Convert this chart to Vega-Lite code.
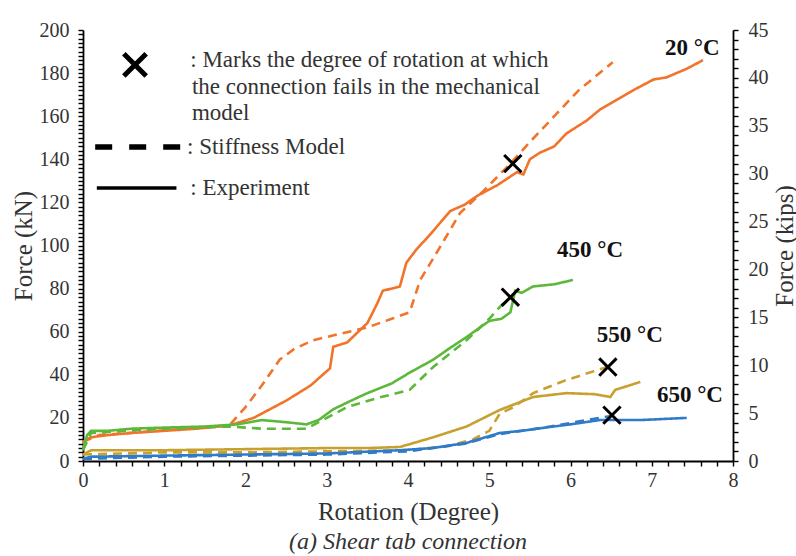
{
  "$schema": "https://vega.github.io/schema/vega-lite/v6.json",
  "width": 650,
  "height": 431,
  "autosize": "none",
  "padding": {"left": 83, "top": 30, "right": 63, "bottom": 95},
  "background": "white",
  "config": {
    "font": "Liberation Serif",
    "view": {"stroke": null},
    "axis": {
      "domainColor": "black", "domainWidth": 1.8, "tickColor": "black", "tickWidth": 1.4, "tickSize": 5,
      "labelFont": "Liberation Serif", "labelFontSize": 20, "labelColor": "#333",
      "titleFont": "Liberation Serif", "titleFontSize": 25, "titleFontWeight": "normal", "titleColor": "#333",
      "grid": false, "labelOverlap": false, "labelFlush": false, "labelBound": false
    }
  },
  "title": {"text": "(a) Shear tab connection", "orient": "bottom", "anchor": "middle", "font": "Liberation Serif", "fontStyle": "italic", "fontWeight": "normal", "fontSize": 24, "color": "#333", "offset": 6},
  "datasets": {
    "curves": [
      {"s": "20", "t": "Experiment", "x": 0, "y": 8}, {"s": "20", "t": "Experiment", "x": 0.05, "y": 10}, {"s": "20", "t": "Experiment", "x": 0.1, "y": 11}, {"s": "20", "t": "Experiment", "x": 0.3, "y": 12}, {"s": "20", "t": "Experiment", "x": 0.6, "y": 13}, {"s": "20", "t": "Experiment", "x": 1.0, "y": 14}, {"s": "20", "t": "Experiment", "x": 1.4, "y": 15}, {"s": "20", "t": "Experiment", "x": 1.8, "y": 16.5}, {"s": "20", "t": "Experiment", "x": 2.1, "y": 20}, {"s": "20", "t": "Experiment", "x": 2.5, "y": 28}, {"s": "20", "t": "Experiment", "x": 2.8, "y": 35}, {"s": "20", "t": "Experiment", "x": 3.04, "y": 43}, {"s": "20", "t": "Experiment", "x": 3.08, "y": 53}, {"s": "20", "t": "Experiment", "x": 3.25, "y": 55}, {"s": "20", "t": "Experiment", "x": 3.5, "y": 64}, {"s": "20", "t": "Experiment", "x": 3.62, "y": 73}, {"s": "20", "t": "Experiment", "x": 3.69, "y": 79}, {"s": "20", "t": "Experiment", "x": 3.9, "y": 81}, {"s": "20", "t": "Experiment", "x": 3.98, "y": 92}, {"s": "20", "t": "Experiment", "x": 4.1, "y": 98}, {"s": "20", "t": "Experiment", "x": 4.27, "y": 105}, {"s": "20", "t": "Experiment", "x": 4.52, "y": 116}, {"s": "20", "t": "Experiment", "x": 4.7, "y": 119}, {"s": "20", "t": "Experiment", "x": 4.85, "y": 123}, {"s": "20", "t": "Experiment", "x": 5.1, "y": 128}, {"s": "20", "t": "Experiment", "x": 5.34, "y": 134}, {"s": "20", "t": "Experiment", "x": 5.42, "y": 133}, {"s": "20", "t": "Experiment", "x": 5.5, "y": 140}, {"s": "20", "t": "Experiment", "x": 5.62, "y": 143}, {"s": "20", "t": "Experiment", "x": 5.8, "y": 146}, {"s": "20", "t": "Experiment", "x": 5.95, "y": 152}, {"s": "20", "t": "Experiment", "x": 6.2, "y": 158}, {"s": "20", "t": "Experiment", "x": 6.36, "y": 163}, {"s": "20", "t": "Experiment", "x": 6.77, "y": 172}, {"s": "20", "t": "Experiment", "x": 7.02, "y": 177}, {"s": "20", "t": "Experiment", "x": 7.18, "y": 178}, {"s": "20", "t": "Experiment", "x": 7.43, "y": 182}, {"s": "20", "t": "Experiment", "x": 7.63, "y": 186},
      {"s": "20", "t": "Model", "x": 0, "y": 9}, {"s": "20", "t": "Model", "x": 0.2, "y": 12}, {"s": "20", "t": "Model", "x": 1.8, "y": 16.5}, {"s": "20", "t": "Model", "x": 2.0, "y": 25}, {"s": "20", "t": "Model", "x": 2.2, "y": 35}, {"s": "20", "t": "Model", "x": 2.42, "y": 47}, {"s": "20", "t": "Model", "x": 2.6, "y": 52}, {"s": "20", "t": "Model", "x": 2.83, "y": 56}, {"s": "20", "t": "Model", "x": 3.16, "y": 59}, {"s": "20", "t": "Model", "x": 3.5, "y": 62}, {"s": "20", "t": "Model", "x": 3.8, "y": 66}, {"s": "20", "t": "Model", "x": 4.02, "y": 69}, {"s": "20", "t": "Model", "x": 4.15, "y": 84}, {"s": "20", "t": "Model", "x": 4.39, "y": 99}, {"s": "20", "t": "Model", "x": 4.64, "y": 115}, {"s": "20", "t": "Model", "x": 4.92, "y": 125}, {"s": "20", "t": "Model", "x": 5.26, "y": 138}, {"s": "20", "t": "Model", "x": 5.5, "y": 148}, {"s": "20", "t": "Model", "x": 5.75, "y": 158}, {"s": "20", "t": "Model", "x": 6.1, "y": 172}, {"s": "20", "t": "Model", "x": 6.52, "y": 185},
      {"s": "450", "t": "Experiment", "x": 0, "y": 5}, {"s": "450", "t": "Experiment", "x": 0.05, "y": 12}, {"s": "450", "t": "Experiment", "x": 0.1, "y": 14}, {"s": "450", "t": "Experiment", "x": 0.3, "y": 14}, {"s": "450", "t": "Experiment", "x": 0.6, "y": 15}, {"s": "450", "t": "Experiment", "x": 1.0, "y": 15.5}, {"s": "450", "t": "Experiment", "x": 1.5, "y": 16}, {"s": "450", "t": "Experiment", "x": 1.9, "y": 17}, {"s": "450", "t": "Experiment", "x": 2.2, "y": 19}, {"s": "450", "t": "Experiment", "x": 2.5, "y": 18}, {"s": "450", "t": "Experiment", "x": 2.75, "y": 17}, {"s": "450", "t": "Experiment", "x": 2.9, "y": 19}, {"s": "450", "t": "Experiment", "x": 3.08, "y": 24}, {"s": "450", "t": "Experiment", "x": 3.3, "y": 28}, {"s": "450", "t": "Experiment", "x": 3.5, "y": 31.5}, {"s": "450", "t": "Experiment", "x": 3.8, "y": 36}, {"s": "450", "t": "Experiment", "x": 4.02, "y": 41}, {"s": "450", "t": "Experiment", "x": 4.31, "y": 47}, {"s": "450", "t": "Experiment", "x": 4.5, "y": 52}, {"s": "450", "t": "Experiment", "x": 4.72, "y": 57.5}, {"s": "450", "t": "Experiment", "x": 5.0, "y": 65}, {"s": "450", "t": "Experiment", "x": 5.15, "y": 66}, {"s": "450", "t": "Experiment", "x": 5.26, "y": 69}, {"s": "450", "t": "Experiment", "x": 5.32, "y": 79}, {"s": "450", "t": "Experiment", "x": 5.4, "y": 78}, {"s": "450", "t": "Experiment", "x": 5.54, "y": 81}, {"s": "450", "t": "Experiment", "x": 5.8, "y": 82}, {"s": "450", "t": "Experiment", "x": 6.03, "y": 84},
      {"s": "450", "t": "Model", "x": 0, "y": 5}, {"s": "450", "t": "Model", "x": 0.1, "y": 13}, {"s": "450", "t": "Model", "x": 1.0, "y": 15}, {"s": "450", "t": "Model", "x": 1.8, "y": 16}, {"s": "450", "t": "Model", "x": 2.2, "y": 15}, {"s": "450", "t": "Model", "x": 2.75, "y": 15}, {"s": "450", "t": "Model", "x": 3.0, "y": 20}, {"s": "450", "t": "Model", "x": 3.25, "y": 25}, {"s": "450", "t": "Model", "x": 3.6, "y": 29}, {"s": "450", "t": "Model", "x": 4.02, "y": 33}, {"s": "450", "t": "Model", "x": 4.31, "y": 43.6}, {"s": "450", "t": "Model", "x": 4.72, "y": 56}, {"s": "450", "t": "Model", "x": 5.0, "y": 66}, {"s": "450", "t": "Model", "x": 5.13, "y": 71.5}, {"s": "450", "t": "Model", "x": 5.26, "y": 76},
      {"s": "550", "t": "Experiment", "x": 0, "y": 3}, {"s": "550", "t": "Experiment", "x": 0.1, "y": 5}, {"s": "550", "t": "Experiment", "x": 0.5, "y": 5}, {"s": "550", "t": "Experiment", "x": 1, "y": 5}, {"s": "550", "t": "Experiment", "x": 2, "y": 5.5}, {"s": "550", "t": "Experiment", "x": 3, "y": 6}, {"s": "550", "t": "Experiment", "x": 3.5, "y": 6}, {"s": "550", "t": "Experiment", "x": 3.9, "y": 6.5}, {"s": "550", "t": "Experiment", "x": 4.31, "y": 11}, {"s": "550", "t": "Experiment", "x": 4.72, "y": 16}, {"s": "550", "t": "Experiment", "x": 5.13, "y": 23.7}, {"s": "550", "t": "Experiment", "x": 5.54, "y": 29.7}, {"s": "550", "t": "Experiment", "x": 5.95, "y": 31.5}, {"s": "550", "t": "Experiment", "x": 6.3, "y": 31}, {"s": "550", "t": "Experiment", "x": 6.49, "y": 29.7}, {"s": "550", "t": "Experiment", "x": 6.55, "y": 33}, {"s": "550", "t": "Experiment", "x": 6.86, "y": 36.7},
      {"s": "550", "t": "Model", "x": 0, "y": 3}, {"s": "550", "t": "Model", "x": 1, "y": 4}, {"s": "550", "t": "Model", "x": 2, "y": 4}, {"s": "550", "t": "Model", "x": 3, "y": 4.5}, {"s": "550", "t": "Model", "x": 4, "y": 5}, {"s": "550", "t": "Model", "x": 4.5, "y": 7}, {"s": "550", "t": "Model", "x": 4.8, "y": 10}, {"s": "550", "t": "Model", "x": 5.0, "y": 14}, {"s": "550", "t": "Model", "x": 5.13, "y": 22}, {"s": "550", "t": "Model", "x": 5.3, "y": 25}, {"s": "550", "t": "Model", "x": 5.54, "y": 31.5}, {"s": "550", "t": "Model", "x": 5.95, "y": 37.6}, {"s": "550", "t": "Model", "x": 6.45, "y": 43.6},
      {"s": "650", "t": "Experiment", "x": 0, "y": 1}, {"s": "650", "t": "Experiment", "x": 0.1, "y": 2}, {"s": "650", "t": "Experiment", "x": 1, "y": 2.5}, {"s": "650", "t": "Experiment", "x": 2, "y": 3}, {"s": "650", "t": "Experiment", "x": 3, "y": 3.5}, {"s": "650", "t": "Experiment", "x": 3.9, "y": 5}, {"s": "650", "t": "Experiment", "x": 4.3, "y": 6}, {"s": "650", "t": "Experiment", "x": 4.72, "y": 8.4}, {"s": "650", "t": "Experiment", "x": 5.13, "y": 13}, {"s": "650", "t": "Experiment", "x": 5.4, "y": 14}, {"s": "650", "t": "Experiment", "x": 5.75, "y": 15.8}, {"s": "650", "t": "Experiment", "x": 6.0, "y": 17}, {"s": "650", "t": "Experiment", "x": 6.36, "y": 19}, {"s": "650", "t": "Experiment", "x": 6.86, "y": 19}, {"s": "650", "t": "Experiment", "x": 7.43, "y": 20},
      {"s": "650", "t": "Model", "x": 0, "y": 1}, {"s": "650", "t": "Model", "x": 1, "y": 2}, {"s": "650", "t": "Model", "x": 2, "y": 2.5}, {"s": "650", "t": "Model", "x": 3, "y": 3}, {"s": "650", "t": "Model", "x": 4, "y": 4.5}, {"s": "650", "t": "Model", "x": 4.7, "y": 8}, {"s": "650", "t": "Model", "x": 5.13, "y": 12.5}, {"s": "650", "t": "Model", "x": 5.75, "y": 16}, {"s": "650", "t": "Model", "x": 6.2, "y": 19}, {"s": "650", "t": "Model", "x": 6.52, "y": 21}
    ],
    "fails": [
      {"x": 5.29, "y": 138}, {"x": 5.26, "y": 76}, {"x": 6.46, "y": 43.6}, {"x": 6.51, "y": 21.3}
    ],
    "labels": [
      {"x": 7.5, "y": 191.6, "label": "20 °C"}, {"x": 6.24, "y": 98, "label": "450 °C"}, {"x": 6.73, "y": 58.5, "label": "550 °C"}, {"x": 7.47, "y": 30.6, "label": "650 °C"}
    ],
    "legendDash": [{"x": 0.15, "y": 145.7}, {"x": 1.28, "y": 145.7}],
    "legendSolid": [{"x": 0.17, "y": 126.7}, {"x": 1.15, "y": 126.7}],
    "legendText": [
      {"x": 1.32, "y": 186, "label": ": Marks the degree of rotation at which"},
      {"x": 1.34, "y": 173.5, "label": "the connection fails in the mechanical"},
      {"x": 1.34, "y": 161.5, "label": "model"},
      {"x": 1.28, "y": 145.7, "label": ": Stiffness Model"},
      {"x": 1.32, "y": 126.7, "label": ": Experiment"}
    ],
    "legendX": [{"x": 0.64, "y": 183.8}]
  },
  "layer": [
    {
      "layer": [
        {
          "data": {"name": "curves"},
          "mark": {"type": "line", "strokeWidth": 2.6},
          "encoding": {
            "x": {"field": "x", "type": "quantitative", "scale": {"domain": [0, 8]},
                  "axis": {"title": "Rotation (Degree)", "tickCount": 1000,
                           "values": [0,0.2,0.4,0.6,0.8,1,1.2,1.4,1.6,1.8,2,2.2,2.4,2.6,2.8,3,3.2,3.4,3.6,3.8,4,4.2,4.4,4.6,4.8,5,5.2,5.4,5.6,5.8,6,6.2,6.4,6.6,6.8,7,7.2,7.4,7.6,7.8,8],
                           "labelExpr": "abs(datum.value - round(datum.value)) < 0.001 ? format(datum.value, 'd') : ''",
                           "labelPadding": 4, "titlePadding": 9}},
            "y": {"field": "y", "type": "quantitative", "scale": {"domain": [0, 200]},
                  "axis": {"title": "Force (kN)", "tickCount": 1000,
                           "values": [0,2,4,6,8,10,12,14,16,18,20,22,24,26,28,30,32,34,36,38,40,42,44,46,48,50,52,54,56,58,60,62,64,66,68,70,72,74,76,78,80,82,84,86,88,90,92,94,96,98,100,102,104,106,108,110,112,114,116,118,120,122,124,126,128,130,132,134,136,138,140,142,144,146,148,150,152,154,156,158,160,162,164,166,168,170,172,174,176,178,180,182,184,186,188,190,192,194,196,198,200],
                           "labelExpr": "datum.value % 20 === 0 ? format(datum.value, 'd') : ''",
                           "labelPadding": 9, "titlePadding": 3}},
            "color": {"field": "s", "type": "nominal", "legend": null,
                      "scale": {"domain": ["20", "450", "550", "650"], "range": ["#F2732A", "#5CB83A", "#C8A030", "#2F7BC8"]}},
            "strokeDash": {"field": "t", "type": "nominal", "legend": null,
                           "scale": {"domain": ["Experiment", "Model"], "range": [[1, 0], [9, 6]]}},
            "detail": {"field": "t"}
          }
        },
        {
          "data": {"name": "fails"},
          "mark": {"type": "point", "shape": "M-1,-1L1,1M-1,1L1,-1", "filled": false, "stroke": "black", "strokeWidth": 3, "size": 300, "opacity": 1},
          "encoding": {
            "x": {"field": "x", "type": "quantitative"},
            "y": {"field": "y", "type": "quantitative"}
          }
        },
        {
          "data": {"name": "labels"},
          "mark": {"type": "text", "font": "Liberation Serif", "fontWeight": "bold", "fontSize": 23, "color": "#111", "align": "center", "baseline": "middle"},
          "encoding": {
            "x": {"field": "x", "type": "quantitative"},
            "y": {"field": "y", "type": "quantitative"},
            "text": {"field": "label"}
          }
        },
        {
          "data": {"name": "legendDash"},
          "mark": {"type": "line", "color": "black", "strokeWidth": 5.5, "strokeDash": [17, 17]},
          "encoding": {
            "x": {"field": "x", "type": "quantitative"},
            "y": {"field": "y", "type": "quantitative"}
          }
        },
        {
          "data": {"name": "legendSolid"},
          "mark": {"type": "line", "color": "black", "strokeWidth": 3.5},
          "encoding": {
            "x": {"field": "x", "type": "quantitative"},
            "y": {"field": "y", "type": "quantitative"}
          }
        },
        {
          "data": {"name": "legendText"},
          "mark": {"type": "text", "font": "Liberation Serif", "fontSize": 23, "color": "#333", "align": "left", "baseline": "middle"},
          "encoding": {
            "x": {"field": "x", "type": "quantitative"},
            "y": {"field": "y", "type": "quantitative"},
            "text": {"field": "label"}
          }
        },
        {
          "data": {"name": "legendX"},
          "mark": {"type": "point", "shape": "M-1,-1L1,1M-1,1L1,-1", "filled": false, "stroke": "black", "strokeWidth": 5, "size": 500, "opacity": 1},
          "encoding": {
            "x": {"field": "x", "type": "quantitative"},
            "y": {"field": "y", "type": "quantitative"}
          }
        }
      ]
    },
    {
      "data": {"values": [{"k": 0}, {"k": 45}]},
      "mark": {"type": "point", "opacity": 0},
      "encoding": {
        "y": {"field": "k", "type": "quantitative", "scale": {"domain": [0, 45]},
              "axis": {"orient": "right", "title": "Force (kips)", "tickCount": 1000,
                       "values": [0,1,2,3,4,5,6,7,8,9,10,11,12,13,14,15,16,17,18,19,20,21,22,23,24,25,26,27,28,29,30,31,32,33,34,35,36,37,38,39,40,41,42,43,44,45],
                       "labelExpr": "datum.value % 5 === 0 ? format(datum.value, 'd') : ''",
                       "titleAngle": 270, "titleBaseline": "top", "labelPadding": 10, "titlePadding": 4}}
      }
    }
  ],
  "resolve": {"scale": {"y": "independent"}}
}
